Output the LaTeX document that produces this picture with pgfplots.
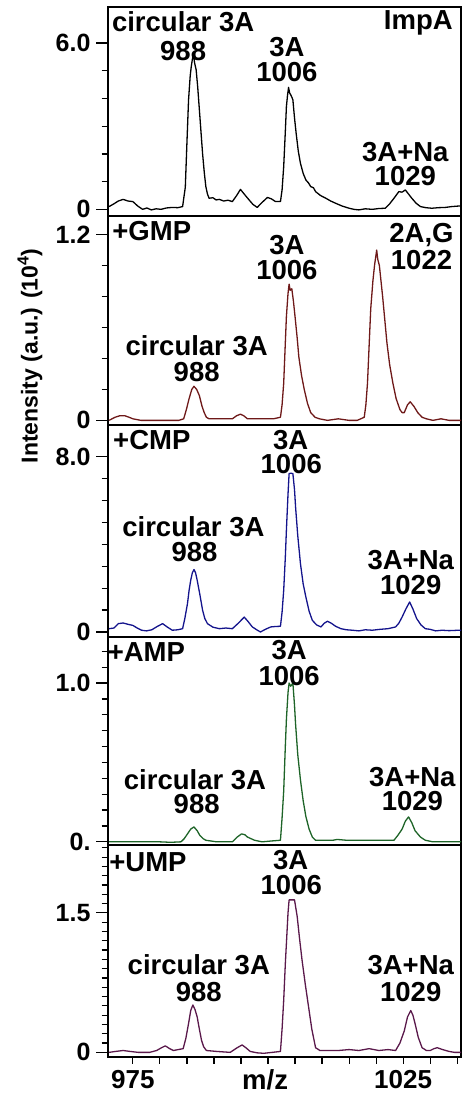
\documentclass[border=0pt]{standalone}
\usepackage{pgfplots}
\pgfplotsset{compat=1.18}
\usepackage{fontspec}
\setmainfont{Liberation Sans}
\definecolor{cP1}{RGB}{0,0,0}
\definecolor{cP2}{RGB}{110,25,25}
\definecolor{cP3}{RGB}{20,20,140}
\definecolor{cP4}{RGB}{30,100,40}
\definecolor{cP5}{RGB}{90,25,75}
\newcommand{\bigb}{\fontsize{27.5}{29}\selectfont\bfseries}
\tikzset{lab/.style={font=\bigb, inner sep=0pt, align=center}}
\pgfplotsset{
  panel/.style={
    scale only axis, width=353pt,
    xmin=970.4, xmax=1035.7,
    axis line style={line width=1.5pt},
    tick style={line width=1.2pt, black},
    tick align=outside,
    major tick length=12pt, minor tick length=6.5pt,
    ytick pos=left, xtick pos=bottom,
    xtick=\empty,
    yticklabel style={font=\fontsize{25}{25}\selectfont\bfseries, xshift=-2pt},
    xticklabel style={font=\fontsize{26}{26}\selectfont\bfseries, inner sep=1pt},
    clip=true,
    every axis plot/.append style={line width=1.3pt, line join=round},
  },
}
\begin{document}
\begin{tikzpicture}
\useasboundingbox (0,0) rectangle (464pt,-1094pt);
% Panel 1
\begin{axis}[panel, name=p1, at={(108pt,-7pt)}, anchor=north west, height=209pt,
  ymin=-0.24, ymax=7.3, ytick={0,6}, yticklabels={0,6.0}, minor ytick={1,2,3,4,5}]
\addplot[cP1] coordinates {
(970.6,0.10)(971.5,0.20)(972.3,0.30)(973.2,0.36)(974.1,0.30)(975.0,0.28)(975.9,0.12)(976.8,0.00)(977.6,0.05)(978.4,-0.02)(979.3,0.02)(980.2,0.00)(981.2,0.05)(982.3,0.07)(983.3,0.06)(984.2,0.10)
(984.7,0.80)(985.0,2.40)(985.3,3.95)(985.6,4.80)(985.8,5.15)(986.0,5.40)(986.2,5.64)(986.4,5.30)(986.7,5.04)(987.0,4.40)(987.3,3.60)(987.6,2.80)(987.9,2.00)(988.2,1.35)(988.5,0.82)(988.8,0.55)(989.1,0.40)
(989.8,0.42)(990.4,0.34)(991.0,0.36)(991.8,0.30)(992.6,0.33)(993.4,0.28)(994.2,0.50)(994.9,0.72)(995.6,0.55)(996.5,0.34)(997.2,0.18)(998.0,0.07)(998.9,0.25)(999.9,0.43)(1000.6,0.38)(1001.4,0.28)(1002.3,0.28)
(1002.6,0.70)(1002.9,1.54)(1003.2,2.80)(1003.4,3.70)(1003.6,4.10)(1003.8,4.40)(1004.0,4.20)(1004.2,4.13)(1004.4,4.05)(1004.6,3.95)(1004.9,3.30)(1005.2,2.75)(1005.6,2.10)(1006.0,1.66)(1006.5,1.30)(1007.0,1.06)(1007.5,0.95)(1007.9,0.82)(1008.4,0.78)(1008.8,0.64)
(1009.7,0.50)(1010.7,0.40)(1011.6,0.30)(1012.5,0.22)(1013.7,0.12)(1015.0,0.04)(1015.9,0.00)(1016.8,-0.02)(1018.0,0.02)(1019.3,0.00)(1020.5,0.03)(1021.7,0.04)(1022.5,0.20)(1023.3,0.40)(1024.2,0.64)(1024.8,0.62)(1025.4,0.70)(1026.0,0.55)(1026.6,0.40)(1027.4,0.22)(1028.2,0.10)
(1029.2,0.06)(1030.3,0.04)(1031.5,0.06)(1032.8,0.07)(1034.0,0.10)(1035.3,0.12)(1035.7,0.12)
};
\node[lab] at (axis cs:984.3,6.77) {circular 3A};
\node[lab] at (axis cs:984.3,5.72) {988};
\node[lab] at (axis cs:1003.5,5.87) {3A};
\node[lab] at (axis cs:1003.5,4.94) {1006};
\node[lab] at (axis cs:1027.8,6.71) {ImpA};
\node[lab] at (axis cs:1025.4,2.08) {3A+Na};
\node[lab] at (axis cs:1025.4,1.21) {1029};
\end{axis}
% Panel 2
\begin{axis}[panel, name=p2, at={(p1.south west)}, anchor=north west, height=209pt,
  ymin=-0.03, ymax=1.32, ytick={0,1.2}, yticklabels={0,1.2}, minor ytick={0.2,0.4,0.6,0.8,1.0}]
\addplot[cP2] coordinates {
(970.6,0.00)(971.7,0.02)(972.6,0.03)(973.5,0.03)(974.3,0.02)(975.0,0.01)(976.5,0.00)(978.1,0.00)(980.2,0.00)(982.3,0.00)(983.5,0.00)(984.4,0.01)
(984.9,0.07)(985.4,0.14)(985.9,0.20)(986.3,0.22)(986.8,0.20)(987.3,0.16)(987.8,0.09)(988.2,0.05)(988.6,0.02)(989.1,0.01)(991.0,0.01)(993.4,0.01)(994.2,0.03)(994.9,0.04)(995.5,0.03)(996.2,0.01)(998.0,0.01)(999.6,0.01)(1001.0,0.01)(1002.3,0.02)
(1002.6,0.10)(1002.9,0.24)(1003.2,0.50)(1003.4,0.67)(1003.7,0.82)(1003.9,0.88)(1004.1,0.84)(1004.4,0.85)(1004.7,0.77)(1005.0,0.67)(1005.4,0.53)(1005.7,0.41)(1006.2,0.29)(1006.7,0.20)(1007.3,0.11)(1007.9,0.05)(1008.7,0.02)(1009.5,0.01)
(1011.0,0.00)(1013.0,0.01)(1015.0,0.00)(1016.5,0.00)(1017.8,0.02)(1018.1,0.10)(1018.4,0.24)(1018.7,0.48)(1019.0,0.72)(1019.4,0.90)(1019.7,1.00)(1019.9,1.05)(1020.1,1.10)(1020.3,1.04)(1020.6,1.00)(1020.9,0.90)(1021.2,0.80)(1021.6,0.65)(1022.0,0.50)(1022.5,0.36)(1023.1,0.24)(1023.7,0.14)(1024.4,0.07)(1024.8,0.05)(1025.2,0.05)(1025.8,0.10)(1026.3,0.12)(1027.0,0.09)(1027.7,0.05)(1028.5,0.02)(1029.3,0.01)
(1030.5,0.00)(1032.0,0.01)(1033.5,0.00)(1035.4,0.00)(1035.7,0.00)
};
\node[lab] at (axis cs:978.5,1.22) {+GMP};
\node[lab] at (axis cs:1003.5,1.135) {3A};
\node[lab] at (axis cs:1003.5,0.97) {1006};
\node[lab] at (axis cs:1028.4,1.20) {2A,G};
\node[lab] at (axis cs:1028.4,1.035) {1022};
\node[lab] at (axis cs:986.8,0.48) {circular 3A};
\node[lab] at (axis cs:986.8,0.312) {988};
\end{axis}
% Panel 3
\begin{axis}[panel, name=p3, at={(p2.south west)}, anchor=north west, height=212pt,
  ymin=-0.23, ymax=9.45, ytick={0,8}, yticklabels={0,8.0}, minor ytick={1,2,3,4,5,6,7}]
\addplot[cP3] coordinates {
(970.6,0.15)(971.5,0.18)(972.3,0.38)(973.2,0.41)(974.1,0.35)(975.0,0.30)(975.8,0.18)(976.6,0.08)(977.5,0.05)(978.5,0.10)(979.5,0.25)(980.5,0.38)(981.4,0.22)(982.3,0.08)(983.3,0.10)(984.2,0.15)
(984.6,0.60)(985.1,1.29)(985.4,1.90)(985.7,2.36)(986.0,2.70)(986.3,2.85)(986.6,2.70)(986.9,2.36)(987.4,1.70)(987.9,0.99)(988.3,0.62)(988.8,0.38)(989.8,0.22)(991.0,0.15)(992.2,0.18)(993.4,0.15)(994.5,0.40)(995.6,0.68)(996.3,0.48)(997.1,0.23)(997.9,0.10)(998.6,0.00)(999.5,0.12)(1000.5,0.23)(1001.4,0.25)(1002.3,0.26)
(1002.6,0.90)(1002.9,1.90)(1003.2,3.40)(1003.4,4.64)(1003.7,6.30)(1003.9,7.23)(1004.2,7.25)(1004.6,7.23)(1004.9,6.50)(1005.1,5.70)(1005.5,4.40)(1006.0,3.12)(1006.5,2.20)(1007.0,1.60)(1007.6,0.95)(1008.2,0.53)(1009.0,0.32)(1009.8,0.23)(1010.4,0.40)(1011.0,0.49)(1011.7,0.40)(1012.5,0.26)
(1013.5,0.15)(1014.5,0.10)(1015.6,0.08)(1016.8,0.05)(1018.0,0.10)(1019.3,0.08)(1020.7,0.12)(1022.2,0.15)(1023.6,0.23)(1024.2,0.40)(1024.8,0.68)(1025.5,1.05)(1026.2,1.37)(1026.8,1.05)(1027.5,0.61)(1028.3,0.32)(1029.1,0.15)(1030.0,0.12)(1031.0,0.05)(1032.2,0.08)(1033.5,0.06)(1035.3,0.08)(1035.7,0.08)
};
\node[lab] at (axis cs:978.5,8.77) {+CMP};
\node[lab] at (axis cs:1004.2,8.77) {3A};
\node[lab] at (axis cs:1004.3,7.66) {1006};
\node[lab] at (axis cs:986.2,4.81) {circular 3A};
\node[lab] at (axis cs:986.4,3.63) {988};
\node[lab] at (axis cs:1026.4,3.29) {3A+Na};
\node[lab] at (axis cs:1026.4,2.15) {1029};
\end{axis}
% Panel 4
\begin{axis}[panel, name=p4, at={(p3.south west)}, anchor=north west, height=208pt,
  ymin=-0.02, ymax=1.29, ytick={0,1}, yticklabels={0.,1.0}, minor ytick={0.1,0.2,0.3,0.4,0.5,0.6,0.7,0.8,0.9,1.1,1.2}]
\addplot[cP4] coordinates {
(970.6,0.00)(972.5,0.00)(974.5,0.00)(976.3,0.00)(978.1,0.00)(980.0,0.00)(982.0,-0.003)(983.9,0.00)
(984.5,0.02)(985.1,0.05)(985.7,0.08)(986.3,0.094)(986.9,0.07)(987.4,0.04)(988.0,0.02)(988.5,0.01)(990.5,0.00)(993.4,0.00)(994.3,0.03)(995.1,0.05)(995.7,0.045)(996.2,0.03)(997.5,0.01)(998.9,0.00)(1000.5,0.005)(1002.3,0.01)
(1002.6,0.15)(1002.9,0.32)(1003.2,0.60)(1003.4,0.77)(1003.7,0.94)(1003.9,1.00)(1004.2,0.98)(1004.6,1.00)(1004.9,0.86)(1005.1,0.74)(1005.5,0.55)(1006.0,0.39)(1006.5,0.26)(1007.0,0.16)(1007.6,0.08)(1008.2,0.03)(1008.8,0.01)
(1010.5,0.01)(1012.0,0.01)(1012.8,0.015)(1014.5,0.01)(1016.5,0.01)(1018.5,0.01)(1020.5,0.01)(1022.0,0.01)(1023.3,0.01)(1024.0,0.04)(1024.8,0.08)(1025.4,0.13)(1026.0,0.157)(1026.6,0.12)(1027.2,0.07)(1028.2,0.03)(1029.1,0.01)
(1030.5,0.00)(1032.5,0.00)(1034.5,0.00)(1035.7,0.00)
};
\node[lab] at (axis cs:977.5,1.197) {+AMP};
\node[lab] at (axis cs:1003.9,1.21) {3A};
\node[lab] at (axis cs:1003.9,1.045) {1006};
\node[lab] at (axis cs:986.5,0.39) {circular 3A};
\node[lab] at (axis cs:986.8,0.235) {988};
\node[lab] at (axis cs:1026.7,0.41) {3A+Na};
\node[lab] at (axis cs:1026.7,0.256) {1029};
\end{axis}
% Panel 5
\begin{axis}[panel, name=p5, at={(p4.south west)}, anchor=north west, height=212pt,
  ymin=-0.05, ymax=2.23, ytick={0,1.5}, yticklabels={0,1.5},
  minor ytick={0.1,0.2,0.3,0.4,0.5,0.6,0.7,0.8,0.9,1.0,1.1,1.2,1.3,1.4,1.6,1.7,1.8,1.9,2.0,2.1,2.2},
  xtick={975,1000,1025}, xticklabels={975,,1025},
  major x tick style={draw=none},
  minor xtick={975,980,985,990,995,1000,1005,1010,1015,1020,1025,1030,1035},
  xlabel={m/z},
  xlabel style={at={(axis description cs:0.445,-0.058)}, anchor=north, font=\bigb, inner sep=0pt}]
\addplot[cP5] coordinates {
(970.6,0.00)(971.8,0.01)(973.2,0.02)(974.5,0.01)(976.0,0.00)(978.1,0.00)(979.4,0.02)(980.3,0.05)(981.0,0.07)(981.8,0.04)(982.5,0.02)(983.4,0.03)(984.3,0.04)
(984.8,0.15)(985.3,0.31)(985.7,0.45)(986.1,0.51)(986.5,0.46)(986.9,0.38)(987.3,0.25)(987.7,0.13)(988.1,0.06)(988.6,0.02)(990.5,0.01)(993.0,0.00)(994.3,0.05)(995.2,0.08)(995.9,0.05)(996.7,0.01)(998.0,-0.005)(999.2,-0.01)(1000.8,0.00)(1002.3,0.01)
(1002.6,0.25)(1002.9,0.56)(1003.2,0.95)(1003.4,1.17)(1003.7,1.50)(1003.9,1.64)(1004.4,1.64)(1004.9,1.64)(1005.4,1.46)(1005.8,1.24)(1006.3,0.99)(1006.9,0.73)(1007.5,0.49)(1008.1,0.25)(1008.8,0.05)(1009.6,0.02)
(1011.0,0.02)(1013.0,0.02)(1015.0,0.03)(1016.8,0.02)(1018.7,0.04)(1020.5,0.02)(1022.2,0.03)(1023.6,0.02)(1024.4,0.10)(1025.2,0.23)(1025.8,0.38)(1026.4,0.45)(1026.8,0.40)(1027.2,0.31)(1027.8,0.16)(1028.5,0.05)(1029.3,0.02)(1030.0,0.02)(1030.7,0.04)(1031.3,0.05)(1032.3,0.03)(1033.5,0.01)(1034.5,0.00)(1035.7,0.00)
};
\node[lab] at (axis cs:977.8,2.05) {+UMP};
\node[lab] at (axis cs:1004.2,2.07) {3A};
\node[lab] at (axis cs:1004.3,1.80) {1006};
\node[lab] at (axis cs:987.2,0.94) {circular 3A};
\node[lab] at (axis cs:987.2,0.65) {988};
\node[lab] at (axis cs:1026.4,0.94) {3A+Na};
\node[lab] at (axis cs:1026.4,0.65) {1029};
\end{axis}
\node[rotate=90, font=\fontsize{23}{25}\selectfont\bfseries, inner sep=0pt] at (30pt,-356pt) {Intensity (a.u.) (10$^{\mathbf{4}}$)};
\end{tikzpicture}
\end{document}
